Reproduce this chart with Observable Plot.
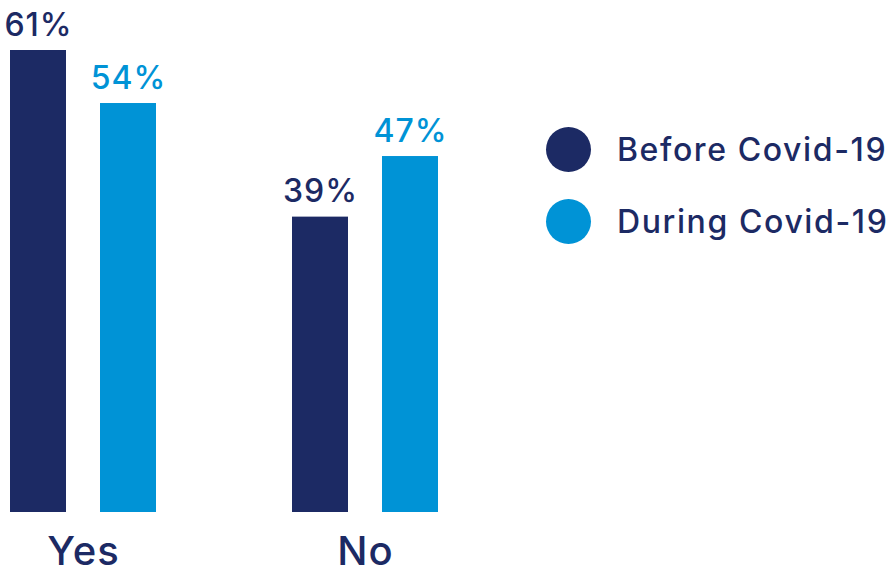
<!DOCTYPE html>
<html><head><meta charset="utf-8">
<script src="https://cdn.jsdelivr.net/npm/d3@7"></script>
<script src="https://cdn.jsdelivr.net/npm/@observablehq/plot@0.6"></script>
<style>
body{margin:0;background:#fff;font-family:Inter,"Noto Sans",sans-serif;}
#wrap{position:relative;width:896px;height:572px;}
#legend{position:absolute;left:546px;top:0;}
.item{position:absolute;display:flex;align-items:center;white-space:nowrap;color:#1c2a64;font-size:32px;font-weight:500;letter-spacing:1.6px;}
.sw{width:45px;height:45px;border-radius:50%;margin-right:26px;flex:none;}
</style></head>
<body><div id="wrap"><div id="legend"></div></div>
<script>
const answers = ["Yes","No"];
const periods = ["Before Covid-19","During Covid-19"];
const before = [61, 39];
const during = [54, 47];
const colors = ["#1c2a64","#0093d6"];

const data = [];
answers.forEach((a,i)=>{
  data.push({answer:a, period:periods[0], value:before[i]});
  data.push({answer:a, period:periods[1], value:during[i]});
});

const chart = Plot.plot({
  width: 896, height: 572,
  marginLeft: 9, marginRight: 457, marginTop: 50, marginBottom: 60,
  style:{fontFamily:"Inter, 'Noto Sans', sans-serif", background:"#fff", letterSpacing:"1px", overflow:"visible"},
  fx:{domain:answers, paddingInner:0.4752, paddingOuter:0, label:null},
  x:{domain:periods, paddingInner:0.3736, paddingOuter:0, axis:null},
  y:{domain:[0, d3.max(data,d=>d.value)], axis:null},
  color:{domain:periods, range:colors},
  marks:[
    Plot.barY(data,{fx:"answer", x:"period", y:"value", fill:"period"}),
    Plot.text(data,{fx:"answer", x:"period", y:"value", text:d=>d.value+"%", fill:"period",
      lineAnchor:"bottom", dy:-15, fontSize:32, fontWeight:500}),
    Plot.axisFx({anchor:"bottom", tickSize:0, tickPadding:24, fontSize:40, fontWeight:500, fill:"#1c2a64", label:null})
  ]
});
document.getElementById("wrap").prepend(chart);
chart.style.position="absolute"; chart.style.left="0"; chart.style.top="0";

const leg = document.getElementById("legend");
const ys = [150, 222];
periods.forEach((p,i)=>{
  const it = document.createElement("div");
  it.className="item";
  it.style.top=(ys[i]-23)+"px";
  it.innerHTML = `<span class="sw" style="background:${colors[i]}"></span><span>${p}</span>`;
  leg.appendChild(it);
});
</script></body></html>
